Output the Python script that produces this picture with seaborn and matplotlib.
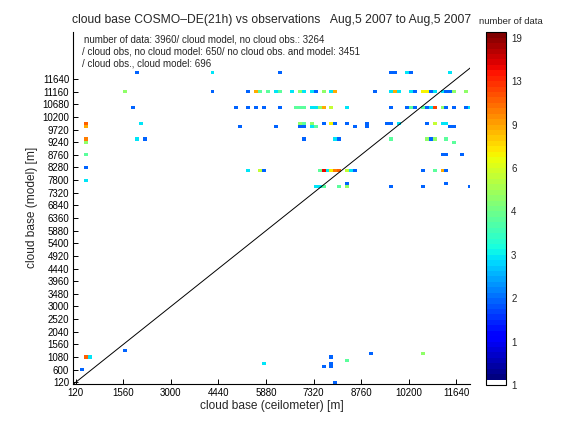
import numpy as np
import pandas as pd
import matplotlib
matplotlib.use('Agg')
import matplotlib.pyplot as plt
from matplotlib.colors import ListedColormap
import seaborn as sns

# occupied cells of the 2d histogram: ceilometer bin centre [m], model bin centre [m], number of data
cell_obs = [
    1980, 1620, 1860, 420, 420, 2100, 420, 420, 1980, 2220, 420, 420, 420,
    # 11880
    4260, 6300, 9660, 9780, 10140, 10260, 11460,
    # 11160
    4260, 5340, 5580, 5700, 5940, 6180, 6300, 6660, 6900, 7020, 7260, 7380, 7620, 7860, 7980,
    9180, 9660, 9780, 9900, 10260, 10380, 10620, 10740, 10860, 10980, 11220, 11340, 11460, 11580, 11940,
    # 10560
    4980, 5340, 5580, 5820, 6300, 6780, 6900, 7020, 7260, 7380, 7500, 7620, 7860, 8340,
    9660, 10140, 10260, 10380, 10620, 10740, 10860, 10980, 11220, 11340, 11580, 11940, 12060,
    # 9960
    6900, 7020, 7260, 7620, 7860, 7980, 8340, 8940, 9540, 9660, 9900, 10740, 10980, 11220, 11340,
    # 9840
    5100, 6180, 6900, 7020, 7260, 7380, 8580, 8940, 11460, 11580,
    # 9360 / 9240
    7020, 7980, 8100, 9660, 10740, 10860, 10980, 11340, 11580,
    # 8760
    11220, 11340, 11820,
    # 8160
    5340, 5700, 5820, 7500, 7620, 7740, 7860, 7980, 8100, 8340, 8460, 8580, 10620, 10980, 11220, 11340,
    # 7680 / 7560
    8340, 11340, 7380, 7500, 7620, 8100, 8340, 9660, 10620, 12060,
    # low clouds
    300, 420, 540, 1620, 5820, 7620, 7860, 7860, 7860, 7980, 8340, 9060, 10620,
]
cell_model = [
    11880, 11160, 10560, 9960, 9840, 9960, 9360, 9240, 9360, 9360, 8760, 8280, 7800,
    11880, 11880, 11880, 11880, 11880, 11880, 11880,
    11160, 11160, 11160, 11160, 11160, 11160, 11160, 11160, 11160, 11160, 11160, 11160, 11160, 11160, 11160,
    11160, 11160, 11160, 11160, 11160, 11160, 11160, 11160, 11160, 11160, 11160, 11160, 11160, 11160, 11160,
    10560, 10560, 10560, 10560, 10560, 10560, 10560, 10560, 10560, 10560, 10560, 10560, 10560, 10560,
    10560, 10560, 10560, 10560, 10560, 10560, 10560, 10560, 10560, 10560, 10560, 10560, 10560,
    9960, 9960, 9960, 9960, 9960, 9960, 9960, 9960, 9960, 9960, 9960, 9960, 9960, 9960, 9960,
    9840, 9840, 9840, 9840, 9840, 9840, 9840, 9840, 9840, 9840,
    9360, 9360, 9360, 9360, 9360, 9360, 9360, 9360, 9240,
    8760, 8760, 8760,
    8160, 8160, 8160, 8160, 8160, 8160, 8160, 8160, 8160, 8160, 8160, 8160, 8160, 8160, 8160, 8160,
    7680, 7680, 7560, 7560, 7560, 7560, 7560, 7560, 7560, 7560,
    600, 1080, 1080, 1320, 840, 720, 1080, 840, 720, 120, 960, 1200, 1200,
]
cell_count = [
    2, 5, 2, 11, 9, 3, 10, 5, 3, 2, 4, 2, 3,
    3, 2, 2, 2, 3, 2, 3,
    2, 2, 9, 4, 4, 3, 4, 3, 5, 3, 3, 2, 5, 3, 9,
    2, 3, 9, 3, 3, 2, 7, 7, 2, 3, 3, 2, 2, 5, 5,
    2, 2, 2, 2, 2, 4, 4, 4, 3, 3, 5, 9, 6, 3,
    2, 2, 4, 2, 4, 2, 3, 12, 5, 2, 2, 2, 3,
    5, 4, 5, 2, 7, 2, 2, 2, 2, 2, 3, 2, 6, 3, 3,
    2, 2, 2, 2, 3, 4, 2, 2, 2, 2,
    2, 3, 2, 4, 5, 2, 5, 4, 4,
    2, 2, 2,
    3, 6, 2, 4, 15, 3, 7, 10, 11, 6, 3, 2, 2, 4, 9, 2,
    2, 2, 3, 3, 4, 4, 5, 2, 2, 2,
    2, 11, 3, 2, 3, 2, 2, 2, 2, 2, 4, 2, 5,
]

x_ticks = list(range(120, 11641, 1440))
y_ticks = list(range(120, 11641, 480))
cbar_labels = ['1', '1', '2', '3', '4', '6', '9', '13', '19']

title = 'cloud base COSMO\u2013DE(21h) vs observations   Aug,5 2007 to Aug,5 2007'
info_lines = [
    'number of data: 3960/ cloud model, no cloud obs.: 3264',
    '/ cloud obs, no cloud model: 650/ no cloud obs. and model: 3451',
    '/ cloud obs., cloud model: 696',
]

sns.set_style('white')
plt.rcParams['font.family'] = ['Liberation Sans', 'DejaVu Sans']

df = pd.DataFrame({'obs': cell_obs, 'model': cell_model, 'n': cell_count})
# colour scale is logarithmic: 19 data -> level 8
df['level'] = 8 * np.log(df['n']) / np.log(19)

# white + jet(64) like the matlab original
jet = plt.get_cmap('jet', 64)(np.arange(64))
cmap = ListedColormap(np.vstack([[1, 1, 1, 1], jet]))

x_edges = np.arange(0, 12121, 120)
y_edges = np.arange(60, 12001, 120)

fig = plt.figure(figsize=(5.76, 4.32), dpi=100)
ax = fig.add_axes([0.1273, 0.1111, 0.6884, 0.8155])
cax = fig.add_axes([0.8438, 0.1088, 0.0352, 0.8163])

sns.histplot(data=df, x='obs', y='model', weights='level', bins=[x_edges, y_edges],
             cmap=cmap, vmin=0, vmax=8.125, ax=ax, linewidth=0, antialiased=False,
             cbar=True, cbar_ax=cax, cbar_kws={'ticks': list(range(9))})

# 1:1 line
ax.plot([0, 13500], [0, 13500], color='black', lw=0.7)

ax.set_xlim(48, 12048)
ax.set_ylim(56, 13436)
ax.set_xticks(x_ticks)
ax.set_yticks(y_ticks)
ax.tick_params(direction='in', length=3.5, width=0.7, labelsize=7, pad=3,
               bottom=True, left=True, top=False, right=False, colors='black')
ax.spines['top'].set_visible(False)
ax.spines['right'].set_visible(False)
for s in ['left', 'bottom']:
    ax.spines[s].set_color('black')
    ax.spines[s].set_linewidth(0.8)
ax.set_xlabel('cloud base (ceilometer) [m]', fontsize=8.6, labelpad=1)
ax.set_ylabel('cloud base (model) [m]', fontsize=8.6, labelpad=3)

for i, line in enumerate(info_lines):
    fig.text(82 / 576 if i else 84 / 576, 1 - (39 + 12.5 * i) / 432, line,
             fontsize=7, va='center', ha='left')

fig.text(272 / 576, 1 - 20.5 / 432, title, fontsize=8.7, ha='center', va='center')
fig.text(511 / 576, 1 - 22 / 432, 'number of data', fontsize=6.8, ha='center', va='center')

cax.set_yticklabels(cbar_labels)
cax.tick_params(direction='in', length=3.5, width=0.7, labelsize=7,
                left=True, right=True, labelleft=False, labelright=True)
cb = ax.collections[0].colorbar
cb.outline.set_edgecolor('black')
cb.outline.set_linewidth(0.8)

fig.savefig('out.png', dpi=100, facecolor='white')
